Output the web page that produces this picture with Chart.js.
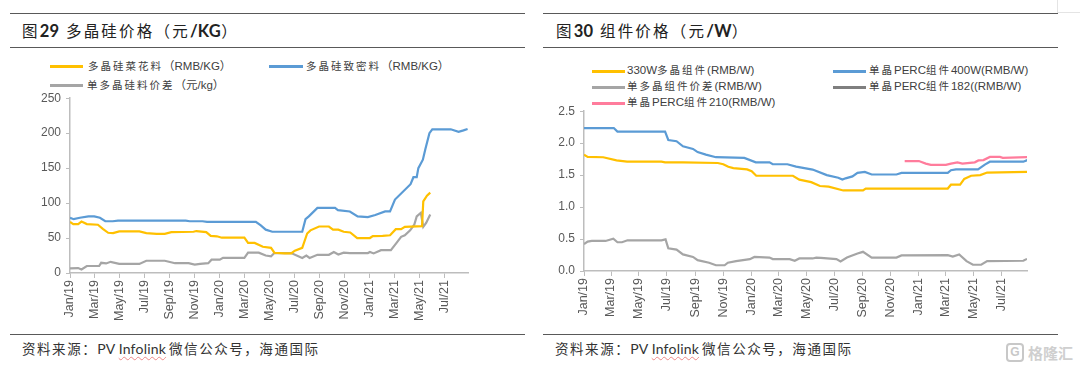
<!DOCTYPE html>
<html>
<head>
<meta charset="utf-8">
<script src="https://cdn.jsdelivr.net/npm/chart.js@4"></script>
<style>
  html, body { margin: 0; padding: 0; background: #fff; }
  body { width: 1080px; height: 370px; overflow: hidden; position: relative; font-family: "Liberation Sans", "Noto Sans CJK SC", sans-serif; }
  .rule { position: absolute; height: 1px; background: #595959; }
  .title { position: absolute; top: 21px; font-size: 15.5px; letter-spacing: 2.2px; color: #222; white-space: nowrap; line-height: 20px; }
  .title b { font-family: Lato, sans-serif; font-size: 16.5px; letter-spacing: 0.3px; }
  .source { position: absolute; top: 340px; font-size: 13.5px; letter-spacing: 1.55px; color: #333; white-space: nowrap; line-height: 18px; }
  .source span { font-family: Lato, sans-serif; font-size: 14px; letter-spacing: 0.2px; margin-right: 3px; }
  .source u { text-decoration: underline wavy #e88; text-decoration-thickness: 1px; text-underline-offset: 2px; }
  .swatch { position: absolute; height: 2.5px; }
  .legend { position: absolute; font-size: 11.5px; color: #404040; white-space: nowrap; line-height: 14px; }
  .legend i { font-style: normal; font-size: 10.5px; letter-spacing: 2px; }
  canvas { position: absolute; }
</style>
</head>
<body>

<div class="rule" style="left:10px;width:515px;top:13px"></div>
<div class="rule" style="left:10px;width:515px;top:47px"></div>
<div class="rule" style="left:10px;width:515px;top:334px"></div>
<div class="rule" style="left:543px;width:515px;top:13px"></div>
<div class="rule" style="left:543px;width:515px;top:47px"></div>
<div class="rule" style="left:543px;width:515px;top:334px"></div>

<div class="title" style="left:22px">图<b>29</b> 多晶硅价格（元<b>/KG</b>）</div>
<div class="title" style="left:556px">图<b>30</b> 组件价格（元<b>/W</b>）</div>
<div class="source" style="left:22px">资料来源：<span>PV <u>Infolink</u></span>微信公众号，海通国际</div>
<div class="source" style="left:555px">资料来源：<span>PV <u>Infolink</u></span>微信公众号，海通国际</div>

<div class="swatch" style="left:50px;width:33px;top:65px;background:#FFC000"></div>
<div class="legend" style="left:88px;top:59px"><i>多晶硅菜花料</i>（RMB/KG）</div>
<div class="swatch" style="left:269px;width:34px;top:65px;background:#5B9BD5"></div>
<div class="legend" style="left:306px;top:59px"><i>多晶硅致密料</i>（RMB/KG）</div>
<div class="swatch" style="left:50px;width:33px;top:84px;background:#A5A5A5"></div>
<div class="legend" style="left:87px;top:78px"><i>单多晶硅料价差</i>（元/kg）</div>

<div class="swatch" style="left:592px;width:33px;top:70px;background:#FFC000"></div>
<div class="legend" style="left:627px;top:63px">330W<i>多晶组件</i>(RMB/W)</div>
<div class="swatch" style="left:833px;width:33px;top:70px;background:#5B9BD5"></div>
<div class="legend" style="left:869px;top:63px"><i>单晶</i>PERC<i>组件</i>400W(RMB/W)</div>
<div class="swatch" style="left:592px;width:33px;top:86px;background:#A5A5A5"></div>
<div class="legend" style="left:627px;top:79px"><i>单多晶组件价差</i>(RMB/W)</div>
<div class="swatch" style="left:833px;width:33px;top:86px;background:#7F7F7F"></div>
<div class="legend" style="left:869px;top:79px"><i>单晶</i>PERC<i>组件</i>182((RMB/W)</div>
<div class="swatch" style="left:592px;width:33px;top:102px;background:#FF7C9C"></div>
<div class="legend" style="left:627px;top:95px"><i>单晶</i>PERC<i>组件</i>210(RMB/W)</div>

<canvas id="polyChart"></canvas>
<canvas id="moduleChart"></canvas>

<!-- watermark + the stray box corner at the top right of the screenshot -->
<div style="position:absolute;left:1057px;top:0;width:1px;height:12px;background:#e4e4e4"></div>
<div style="position:absolute;left:1057px;top:12px;width:23px;height:1px;background:#e4e4e4"></div>
<div style="position:absolute;left:1006px;top:343px;width:14px;height:15px;border:2px solid #c8c8c8;border-radius:4px;color:#c8c8c8;font:bold 12px/15px 'Liberation Sans';text-align:center">G</div>
<div style="position:absolute;left:1028px;top:343px;font:bold 15px/20px 'Noto Sans CJK SC';color:#cfcfcf">格隆汇</div>

<script>
// x axis ticks, both charts
const tickDates = ['2019-01-01','2019-03-01','2019-05-01','2019-07-01','2019-09-01','2019-11-01','2020-01-01','2020-03-01','2020-05-01','2020-07-01','2020-09-01','2020-11-01','2021-01-01','2021-03-01','2021-05-01','2021-07-01'];
const tickLabels = ['Jan/19','Mar/19','May/19','Jul/19','Sep/19','Nov/19','Jan/20','Mar/20','May/20','Jul/20','Sep/20','Nov/20','Jan/21','Mar/21','May/21','Jul/21'];

// Fig 29 - polysilicon
const cauliDates = ['2019-01-01','2019-01-09','2019-01-21','2019-01-29','2019-02-11','2019-03-10','2019-03-22','2019-04-04','2019-04-16','2019-05-01','2019-06-19','2019-07-06','2019-07-31','2019-08-20','2019-09-05','2019-10-29','2019-11-05','2019-11-29','2019-12-10','2019-12-25','2020-01-06','2020-03-01','2020-03-10','2020-03-26','2020-04-15','2020-05-05','2020-05-13','2020-06-07','2020-06-23','2020-07-02','2020-07-20','2020-08-01','2020-08-09','2020-08-30','2020-09-23','2020-10-03','2020-10-16','2020-10-29','2020-11-14','2020-12-01','2021-01-01','2021-01-08','2021-02-01','2021-02-19','2021-03-05','2021-03-18','2021-03-27','2021-05-08','2021-05-11','2021-05-20','2021-05-28'];
const cauliValues = [73,70,70,73.5,70,69,63,57.5,57,59.5,59.5,57,56,56,58.5,59,60,58.5,53,52.5,50.5,50.5,43,43,37.5,36,29,28,28,32,36,56.5,61,66.5,66.5,62,62,59,58,50,50,52.7,53,54,62.7,62.7,66,67,102.5,110.6,115];

const denseDates = ['2019-01-01','2019-01-10','2019-01-25','2019-02-15','2019-03-01','2019-03-15','2019-03-28','2019-04-15','2019-04-28','2019-10-10','2019-10-20','2019-11-20','2019-12-01','2020-03-29','2020-04-10','2020-04-22','2020-05-08','2020-07-20','2020-07-28','2020-08-05','2020-08-26','2020-10-08','2020-10-15','2020-11-13','2020-12-02','2020-12-27','2021-01-14','2021-02-07','2021-02-19','2021-03-03','2021-04-10','2021-04-17','2021-04-25','2021-04-29','2021-05-10','2021-05-16','2021-05-26','2021-06-02','2021-07-17','2021-08-05','2021-08-17','2021-08-27'];
const denseValues = [79,77,79,81,81,79,74,74,75,75,74,74,73,73,68,62,59,59,77,81,93,93,90,88,81,80,83,88,88,105,127,137,137,150,162,177,200,205.5,205.5,202,204,206];

const polyGapDates = ['2019-01-01','2019-01-21','2019-01-29','2019-02-11','2019-03-13','2019-03-18','2019-03-30','2019-04-10','2019-05-01','2019-06-19','2019-07-06','2019-08-20','2019-09-14','2019-10-17','2019-11-01','2019-11-14','2019-12-04','2019-12-12','2020-01-01','2020-01-09','2020-03-01','2020-03-10','2020-04-05','2020-04-22','2020-05-05','2020-05-13','2020-06-23','2020-07-20','2020-07-30','2020-08-07','2020-08-26','2020-09-23','2020-10-05','2020-10-16','2020-10-29','2020-11-13','2020-12-27','2021-01-01','2021-01-10','2021-01-28','2021-02-21','2021-03-04','2021-03-18','2021-03-27','2021-04-09','2021-04-19','2021-04-25','2021-05-05','2021-05-11','2021-05-18','2021-05-28'];
const polyGapValues = [6.6,7,5,10,10,14.6,13.7,16,13,13,17.5,17.5,14,14,12,13,14,19,19,21.7,21.7,29,29,25,24,28.5,28.5,21.5,25,21.5,26,26,30,26.5,29,28.5,28.5,30,28,32.7,32.7,41,51.7,54,61,69,81,86,66,71.7,83.6];

// Fig 30 - modules
const multiDates = ['2019-01-01','2019-01-09','2019-02-12','2019-03-13','2019-04-05','2019-06-19','2019-06-27','2019-08-05','2019-10-20','2019-11-01','2019-11-12','2019-11-23','2019-12-23','2020-01-02','2020-01-12','2020-04-01','2020-04-15','2020-05-11','2020-05-30','2020-06-18','2020-07-20','2020-09-01','2020-09-07','2021-03-05','2021-03-12','2021-04-01','2021-04-10','2021-04-25','2021-05-15','2021-05-30','2021-08-25'];
const multiValues = [1.82,1.785,1.78,1.73,1.71,1.71,1.70,1.70,1.69,1.67,1.63,1.61,1.59,1.56,1.49,1.49,1.43,1.39,1.33,1.32,1.26,1.26,1.29,1.29,1.35,1.35,1.44,1.49,1.5,1.54,1.55];

const perc400Dates = ['2019-01-01','2019-03-07','2019-03-15','2019-06-27','2019-07-04','2019-07-22','2019-08-05','2019-08-27','2019-09-06','2019-09-24','2019-10-16','2019-12-17','2020-01-11','2020-02-10','2020-02-17','2020-03-20','2020-04-08','2020-05-14','2020-06-14','2020-07-09','2020-07-18','2020-07-25','2020-08-09','2020-08-20','2020-09-05','2020-09-20','2020-11-13','2020-11-24','2021-03-05','2021-03-12','2021-03-23','2021-05-10','2021-05-25','2021-06-05','2021-08-17','2021-08-26'];
const perc400Values = [2.236,2.236,2.18,2.18,2.05,2.03,1.95,1.91,1.86,1.82,1.78,1.77,1.70,1.70,1.67,1.67,1.634,1.587,1.5,1.46,1.43,1.45,1.48,1.535,1.55,1.51,1.51,1.535,1.535,1.577,1.59,1.59,1.665,1.71,1.71,1.735];

const moduleGapDates = ['2019-01-01','2019-01-09','2019-01-18','2019-02-17','2019-03-06','2019-03-15','2019-03-25','2019-04-06','2019-06-19','2019-06-28','2019-07-04','2019-07-22','2019-08-05','2019-08-27','2019-09-06','2019-10-01','2019-10-16','2019-11-04','2019-11-11','2019-11-29','2019-12-29','2020-01-08','2020-02-10','2020-02-17','2020-03-25','2020-04-05','2020-04-15','2020-05-14','2020-05-22','2020-06-01','2020-07-05','2020-07-14','2020-07-28','2020-08-20','2020-09-01','2020-09-20','2020-11-13','2020-11-24','2021-03-05','2021-03-16','2021-03-30','2021-04-15','2021-04-29','2021-05-17','2021-05-30','2021-08-17','2021-08-25'];
const moduleGapValues = [0.42,0.46,0.47,0.47,0.505,0.45,0.45,0.48,0.48,0.495,0.355,0.335,0.26,0.22,0.17,0.13,0.09,0.09,0.13,0.155,0.185,0.22,0.21,0.186,0.186,0.16,0.196,0.196,0.21,0.205,0.186,0.15,0.21,0.274,0.30,0.21,0.21,0.243,0.248,0.225,0.26,0.155,0.098,0.098,0.155,0.16,0.19];

const perc210Dates = ['2020-12-01','2021-01-01','2021-01-16','2021-01-27','2021-03-01','2021-03-12','2021-03-26','2021-04-06','2021-05-03','2021-05-11','2021-05-22','2021-06-05','2021-06-27','2021-07-03','2021-08-25'];
const perc210Values = [1.72,1.72,1.68,1.66,1.66,1.68,1.70,1.68,1.70,1.73,1.735,1.785,1.785,1.77,1.78];

// dates go on a real day axis, like the Excel date axis in the source
const dayMs = 24 * 3600 * 1000;
function dayOf(s) {
    return (Date.parse(s) - Date.parse('2019-01-01')) / dayMs;
}
function points(dates, values) {
    return dates.map((d, i) => ({ x: dayOf(d), y: values[i] }));
}
function lineSet(label, dates, values, color) {
    return { label: label, data: points(dates, values), borderColor: color, borderWidth: 2.2, pointRadius: 0, tension: 0, fill: false };
}

const axisColor = '#BDBDBD';

function drawChart(id, box, datasets, yMax, yStep, xMax, yFormat) {
    const canvas = document.getElementById(id);
    canvas.style.left = box.left + 'px';
    canvas.style.top = box.top + 'px';
    canvas.style.width = box.width + 'px';
    canvas.style.height = box.height + 'px';
    canvas.width = box.width;
    canvas.height = box.height;

    new Chart(canvas, {
        type: 'line',
        data: { datasets: datasets },
        options: {
            responsive: false,
            animation: false,
            layout: { padding: { top: 6, right: 2, left: 0, bottom: 0 } },
            plugins: { legend: { display: false }, tooltip: { enabled: false } },
            scales: {
                x: {
                    type: 'linear',
                    min: 0,
                    max: xMax,
                    afterBuildTicks: function(scale) {
                        scale.ticks = tickDates.map(d => ({ value: dayOf(d) }));
                    },
                    afterFit: function(scale) { scale.height = box.xHeight; },
                    ticks: {
                        autoSkip: false,
                        minRotation: 90,
                        maxRotation: 90,
                        color: '#595959',
                        font: { family: '"Liberation Sans"', size: 12.5 },
                        padding: 2,
                        callback: function(value) {
                            return tickLabels[tickDates.findIndex(d => dayOf(d) === value)];
                        }
                    },
                    grid: { drawOnChartArea: false, color: axisColor, tickLength: 5 },
                    border: { color: axisColor, width: 1.5 }
                },
                y: {
                    min: 0,
                    max: yMax,
                    afterFit: function(scale) { scale.width = box.yWidth; },
                    ticks: {
                        stepSize: yStep,
                        color: '#595959',
                        font: { family: '"Liberation Sans"', size: 12 },
                        padding: 5,
                        callback: yFormat
                    },
                    grid: { drawOnChartArea: false, color: axisColor, tickLength: 4 },
                    border: { color: axisColor, width: 1.5 }
                }
            }
        }
    });
}

drawChart('polyChart', { left: 10, top: 86, width: 460, height: 250, yWidth: 60, xHeight: 63 }, [
    lineSet('多晶硅菜花料（RMB/KG）', cauliDates, cauliValues, '#FFC000'),
    lineSet('多晶硅致密料（RMB/KG）', denseDates, denseValues, '#5B9BD5'),
    lineSet('单多晶硅料价差（元/kg）', polyGapDates, polyGapValues, '#A5A5A5')
], 250, 50, 970, v => v);

drawChart('moduleChart', { left: 544, top: 99, width: 485, height: 236, yWidth: 40, xHeight: 64 }, [
    lineSet('330W多晶组件(RMB/W)', multiDates, multiValues, '#FFC000'),
    lineSet('单晶PERC组件400W(RMB/W)', perc400Dates, perc400Values, '#5B9BD5'),
    lineSet('单多晶组件价差(RMB/W)', moduleGapDates, moduleGapValues, '#A5A5A5'),
    lineSet('单晶PERC组件210(RMB/W)', perc210Dates, perc210Values, '#FF7C9C')
], 2.5, 0.5, 967, v => v.toFixed(1));
</script>
</body>
</html>
